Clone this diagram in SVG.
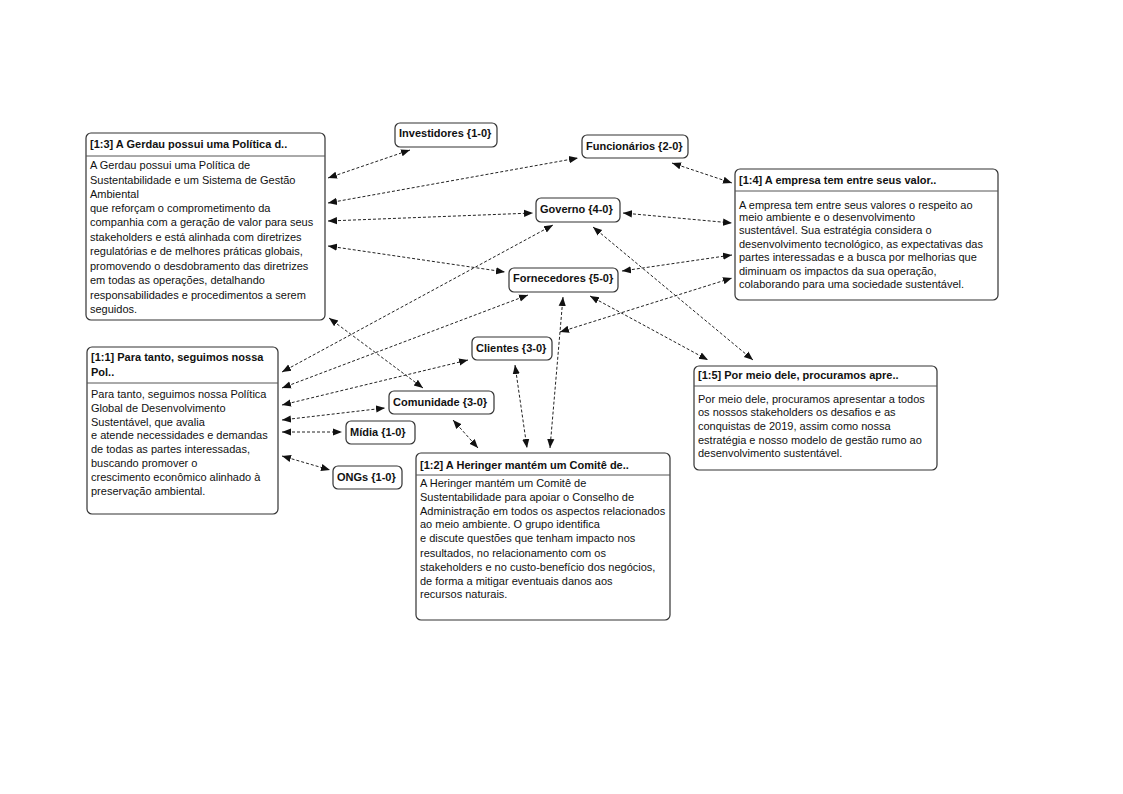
<svg xmlns="http://www.w3.org/2000/svg" width="1123" height="794" viewBox="0 0 1123 794">
<style>
.box{fill:#fff;stroke:#333;stroke-width:1.2}
.sep{stroke:#555;stroke-width:1}
.t{font-family:"Liberation Sans",Arial,sans-serif;font-size:11px;fill:#111}
.b{font-weight:bold}
.c{fill:none;stroke:#222;stroke-width:1;stroke-dasharray:3,2;marker-start:url(#ah);marker-end:url(#ah)}
</style>
<defs>
<marker id="ah" viewBox="0 0 10 10" refX="10" refY="5" markerWidth="9" markerHeight="9" markerUnits="userSpaceOnUse" orient="auto-start-reverse">
<path d="M0,1 L10,5 L0,9 Z" fill="#111"/>
</marker>
</defs>
<rect width="1123" height="794" fill="#fff"/>
<g id="connectors">
<line class="c" x1="328" y1="178" x2="410" y2="150"/>
<line class="c" x1="328" y1="203" x2="578" y2="158"/>
<line class="c" x1="328" y1="221" x2="533" y2="213"/>
<line class="c" x1="328" y1="246" x2="505" y2="272"/>
<line class="c" x1="672" y1="163" x2="732" y2="183"/>
<line class="c" x1="623" y1="213" x2="732" y2="223"/>
<line class="c" x1="622" y1="271" x2="732" y2="255"/>
<line class="c" x1="282" y1="372" x2="553" y2="225"/>
<line class="c" x1="593" y1="227" x2="753" y2="360"/>
<line class="c" x1="590" y1="296" x2="708" y2="360"/>
<line class="c" x1="560" y1="332" x2="732" y2="278"/>
<line class="c" x1="282" y1="388" x2="528" y2="295"/>
<line class="c" x1="282" y1="405" x2="468" y2="360"/>
<line class="c" x1="282" y1="420" x2="385" y2="408"/>
<line class="c" x1="282" y1="432" x2="342" y2="432"/>
<line class="c" x1="282" y1="456" x2="330" y2="470"/>
<line class="c" x1="329" y1="318" x2="423" y2="388"/>
<line class="c" x1="453" y1="420" x2="478" y2="448"/>
<line class="c" x1="515" y1="365" x2="527" y2="448"/>
<line class="c" x1="563" y1="297" x2="550" y2="448"/>
</g>
<g id="n13">
<rect class="box" x="86" y="133" width="239" height="187" rx="5"/>
<line class="sep" x1="86" y1="156" x2="325" y2="156"/>
<text class="t b" x="90" y="148">[1:3] A Gerdau possui uma Política d..</text>
<text class="t" x="90"><tspan x="90" y="169">A Gerdau possui uma Política de</tspan><tspan x="90" y="184">Sustentabilidade e um Sistema de Gestão</tspan><tspan x="90" y="198">Ambiental</tspan><tspan x="90" y="212">que reforçam o comprometimento da</tspan><tspan x="90" y="226">companhia com a geração de valor para seus</tspan><tspan x="90" y="241">stakeholders e está alinhada com diretrizes</tspan><tspan x="90" y="255">regulatórias e de melhores práticas globais,</tspan><tspan x="90" y="270">promovendo o desdobramento das diretrizes</tspan><tspan x="90" y="284">em todas as operações, detalhando</tspan><tspan x="90" y="299">responsabilidades e procedimentos a serem</tspan><tspan x="90" y="313">seguidos.</tspan></text>
</g>
<g id="n14">
<rect class="box" x="735" y="169" width="263" height="131" rx="5"/>
<line class="sep" x1="735" y1="191" x2="998" y2="191"/>
<text class="t b" x="739" y="184">[1:4] A empresa tem entre seus valor..</text>
<text class="t"><tspan x="739" y="209">A empresa tem entre seus valores o respeito ao</tspan><tspan x="739" y="221">meio ambiente e o desenvolvimento</tspan><tspan x="739" y="234">sustentável. Sua estratégia considera o</tspan><tspan x="739" y="248">desenvolvimento tecnológico, as expectativas das</tspan><tspan x="739" y="261">partes interessadas e a busca por melhorias que</tspan><tspan x="739" y="275">diminuam os impactos da sua operação,</tspan><tspan x="739" y="288">colaborando para uma sociedade sustentável.</tspan></text>
</g>
<g id="n11">
<rect class="box" x="87" y="347" width="191" height="167" rx="5"/>
<line class="sep" x1="87" y1="383" x2="278" y2="383"/>
<text class="t b"><tspan x="91" y="361">[1:1] Para tanto, seguimos nossa</tspan><tspan x="91" y="376">Pol..</tspan></text>
<text class="t"><tspan x="91" y="398">Para tanto, seguimos nossa Política</tspan><tspan x="91" y="412">Global de Desenvolvimento</tspan><tspan x="91" y="426">Sustentável, que avalia</tspan><tspan x="91" y="439">e atende necessidades e demandas</tspan><tspan x="91" y="453">de todas as partes interessadas,</tspan><tspan x="91" y="467">buscando promover o</tspan><tspan x="91" y="481">crescimento econômico alinhado à</tspan><tspan x="91" y="495">preservação ambiental.</tspan></text>
</g>
<g id="n12">
<rect class="box" x="416" y="453" width="254" height="167" rx="5"/>
<line class="sep" x1="416" y1="475" x2="670" y2="475"/>
<text class="t b" x="420" y="469">[1:2] A Heringer mantém um Comitê de..</text>
<text class="t"><tspan x="420" y="487">A Heringer mantém um Comitê de</tspan><tspan x="420" y="501">Sustentabilidade para apoiar o Conselho de</tspan><tspan x="420" y="515">Administração em todos os aspectos relacionados</tspan><tspan x="420" y="528">ao meio ambiente. O grupo identifica</tspan><tspan x="420" y="542">e discute questões que tenham impacto nos</tspan><tspan x="420" y="557">resultados, no relacionamento com os</tspan><tspan x="420" y="571">stakeholders e no custo-benefício dos negócios,</tspan><tspan x="420" y="585">de forma a mitigar eventuais danos aos</tspan><tspan x="420" y="598">recursos naturais.</tspan></text>
</g>
<g id="n15">
<rect class="box" x="694" y="366" width="243" height="104" rx="5"/>
<line class="sep" x1="694" y1="386" x2="937" y2="386"/>
<text class="t b" x="698" y="379">[1:5] Por meio dele, procuramos apre..</text>
<text class="t"><tspan x="698" y="403">Por meio dele, procuramos apresentar a todos</tspan><tspan x="698" y="416">os nossos stakeholders os desafios e as</tspan><tspan x="698" y="430">conquistas de 2019, assim como nossa</tspan><tspan x="698" y="444">estratégia e nosso modelo de gestão rumo ao</tspan><tspan x="698" y="457">desenvolvimento sustentável.</tspan></text>
</g>
<g id="investidores">
<rect class="box" x="395" y="123" width="102" height="24" rx="5"/>
<text class="t b" x="399" y="137">Investidores {1-0}</text>
</g>
<g id="funcionarios">
<rect class="box" x="582" y="135" width="106" height="23" rx="5"/>
<text class="t b" x="586" y="150">Funcionários {2-0}</text>
</g>
<g id="governo">
<rect class="box" x="536" y="198" width="84" height="24" rx="5"/>
<text class="t b" x="540" y="213">Governo {4-0}</text>
</g>
<g id="fornecedores">
<rect class="box" x="509" y="268" width="109" height="24" rx="5"/>
<text class="t b" x="513" y="282">Fornecedores {5-0}</text>
</g>
<g id="clientes">
<rect class="box" x="472" y="337" width="80" height="23" rx="5"/>
<text class="t b" x="476" y="352">Clientes {3-0}</text>
</g>
<g id="comunidade">
<rect class="box" x="389" y="391" width="105" height="23" rx="5"/>
<text class="t b" x="393" y="406">Comunidade {3-0}</text>
</g>
<g id="midia">
<rect class="box" x="346" y="421" width="69" height="23" rx="5"/>
<text class="t b" x="350" y="436">Mídia {1-0}</text>
</g>
<g id="ongs">
<rect class="box" x="333" y="466" width="69" height="23" rx="5"/>
<text class="t b" x="337" y="481">ONGs {1-0}</text>
</g>
</svg>
